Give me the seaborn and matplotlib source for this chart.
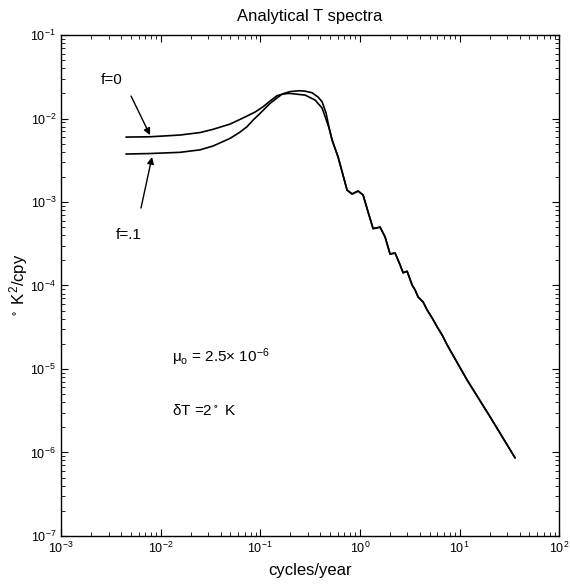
import numpy as np
import pandas as pd
import matplotlib
matplotlib.use("Agg")
import matplotlib.pyplot as plt
import seaborn as sns

# low-frequency branch, f = 0
f0_freq = [0.00449, 0.00783, 0.0157, 0.0249, 0.0336, 0.0498, 0.0736, 0.0887, 0.1067, 0.1253,
           0.1476, 0.1694, 0.1945, 0.2818, 0.3548, 0.4174]
f0_power = [0.00600, 0.00605, 0.00635, 0.00680, 0.00743, 0.00859, 0.01071, 0.01197, 0.01384, 0.01622,
            0.01880, 0.01965, 0.02004, 0.0191, 0.01667, 0.01336]

# low-frequency branch, f = .1
f1_freq = [0.00449, 0.00783, 0.0157, 0.0249, 0.0336, 0.0498, 0.0627, 0.0736, 0.0847, 0.0995, 0.1253,
           0.1656, 0.199, 0.2455, 0.2818, 0.331, 0.3804, 0.4174, 0.4576]
f1_power = [0.00376, 0.00381, 0.00394, 0.00422, 0.00469, 0.00579, 0.00689, 0.00798, 0.00959, 0.01153,
            0.01520, 0.01965, 0.02104, 0.02154, 0.0213, 0.02037, 0.01809, 0.01589, 0.01164]

# common high-frequency tail (both cases coincide)
tail_freq = [0.491, 0.526, 0.604, 0.677, 0.743, 0.835, 0.959, 1.077, 1.208, 1.357, 1.595, 1.790,
             2.009, 2.254, 2.533, 2.715, 2.978, 3.342, 3.58, 3.84, 4.31, 4.73, 5.31, 5.96,
             6.69, 7.51, 11.9, 20.3, 36.1]
tail_power = [0.00769, 0.00553, 0.00346, 0.00210, 0.00139, 0.001247, 0.001355, 0.001213, 0.000759,
              0.000480, 0.000500, 0.000381, 0.000238, 0.000245, 0.000176, 0.000142, 0.000148,
              0.0001014, 8.83e-5, 7.28e-5, 6.34e-5, 5.09e-5, 4.08e-5, 3.19e-5, 2.55e-5, 1.94e-5,
              7.38e-6, 2.66e-6, 8.59e-7]

df = pd.concat([
    pd.DataFrame({"freq": f0_freq + tail_freq, "power": f0_power + tail_power, "case": "f=0"}),
    pd.DataFrame({"freq": f1_freq + tail_freq, "power": f1_power + tail_power, "case": "f=.1"}),
])

sns.set_style("ticks")
plt.rcParams["font.family"] = ["Liberation Sans", "DejaVu Sans"]
plt.rcParams["mathtext.default"] = "regular"
for k in ["text.color", "axes.labelcolor", "xtick.color", "ytick.color", "axes.edgecolor"]:
    plt.rcParams[k] = "black"

fig = plt.figure(figsize=(5.7, 5.85), dpi=100)
ax = fig.add_axes([0.107, 0.084, 0.874, 0.856])
ax.set(xscale="log", yscale="log")
sns.lineplot(data=df, x="freq", y="power", hue="case", palette={"f=0": "k", "f=.1": "k"},
             estimator=None, sort=False, legend=False, linewidth=1.2, ax=ax)

ax.set_xlim(1e-3, 1e2)
ax.set_ylim(1e-7, 1e-1)
ax.tick_params(which="both", top=True, right=True, direction="in", labelsize=9, color="k")
ax.tick_params(which="major", length=5, width=0.8)
ax.tick_params(which="minor", length=3, width=0.6)
for s in ax.spines.values():
    s.set_linewidth(1.0)

ax.set_title("Analytical T spectra", fontsize=12, pad=10)
ax.set_xlabel("cycles/year", fontsize=12, labelpad=5)
ax.set_ylabel(r"$^\circ$ K$^2$/cpy", fontsize=12, labelpad=0)

arrow = dict(arrowstyle="-|>", color="k", lw=1.0, mutation_scale=10, shrinkA=0, shrinkB=0)
ax.text(0.00325, 0.0289, "f=0", fontsize=11, ha="center", va="center")
ax.annotate("", xy=(0.00783, 0.00633), xytext=(0.00505, 0.0186), arrowprops=arrow)
ax.text(0.00482, 0.000403, "f=.1", fontsize=11, ha="center", va="center")
ax.annotate("", xy=(0.0082, 0.00346), xytext=(0.00635, 0.000847), arrowprops=arrow)

ax.text(0.223, 0.357, r"$\mu_o$ = 2.5$\times$ 10$^{-6}$", transform=ax.transAxes, fontsize=11, va="center")
ax.text(0.223, 0.251, r"$\delta$T =2$^\circ$ K", transform=ax.transAxes, fontsize=11, va="center")

fig.savefig("out.png", dpi=100)
